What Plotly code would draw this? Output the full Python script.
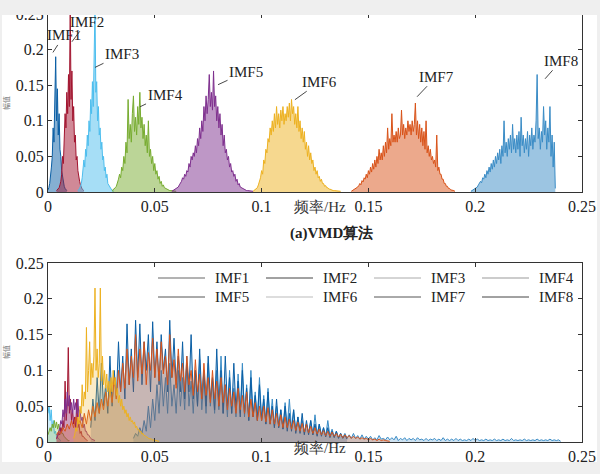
import numpy as np
import plotly.graph_objects as go

# ---------------- data ----------------
names = ["IMF1", "IMF2", "IMF3", "IMF4", "IMF5", "IMF6", "IMF7", "IMF8"]
colors = ["#0b5fa5", "#a2142f", "#4dbeee", "#77ac30", "#7e2f8e", "#edb120", "#d95319", "#3a8cc6"]
legend_greys = ["#666666", "#444444", "#aaaaaa", "#999999", "#555555", "#bbbbbb", "#555555", "#444444"]
x_ticks = [0, 0.05, 0.1, 0.15, 0.2, 0.25]
x_ticktext = ["0", "0.05", "0.1", "0.15", "0.2", "0.25"]
y_ticks = [0, 0.05, 0.1, 0.15, 0.2, 0.25]
y_ticktext = ["0", "0.05", "0.1", "0.15", "0.2", "0.25"]

# (a) VMD spectra: start frequency, bin step, amplitudes
vmd_start = [0.0, 0.004, 0.014, 0.030, 0.058, 0.096, 0.142, 0.198]
vmd_step = [0.0004, 0.0004, 0.0004, 0.0005, 0.0005, 0.0005, 0.0005, 0.0005]
vmd_imf1 = [0.003, 0.006, 0.012, 0.02, 0.035, 0.05, 0.09, 0.07, 0.135, 0.19, 0.1, 0.145,
            0.08, 0.11, 0.06, 0.05, 0.03, 0.02, 0.012, 0.008, 0.005, 0.003, 0.002]
vmd_imf2 = [0.002, 0.003, 0.004, 0.006, 0.01, 0.015, 0.025, 0.05, 0.04, 0.08, 0.11, 0.09,
            0.14, 0.11, 0.165, 0.12, 0.26, 0.13, 0.17, 0.1, 0.12, 0.07, 0.08, 0.045, 0.05,
            0.03, 0.02, 0.015, 0.01, 0.006, 0.004, 0.003, 0.002]
vmd_imf3 = [0.002, 0.003, 0.005, 0.008, 0.012, 0.02, 0.03, 0.045, 0.035, 0.06, 0.05, 0.08,
            0.065, 0.1, 0.085, 0.13, 0.11, 0.155, 0.12, 0.17, 0.26, 0.14, 0.155, 0.1, 0.12,
            0.08, 0.09, 0.06, 0.07, 0.045, 0.05, 0.03, 0.035, 0.02, 0.025, 0.012, 0.01,
            0.006, 0.004, 0.003, 0.002, 0.002, 0.001]
vmd_imf4 = [0.002, 0.003, 0.004, 0.006, 0.008, 0.012, 0.018, 0.025, 0.02, 0.035, 0.03, 0.05,
            0.04, 0.07, 0.055, 0.13, 0.075, 0.095, 0.07, 0.11, 0.135, 0.085, 0.105, 0.08,
            0.12, 0.095, 0.14, 0.09, 0.105, 0.075, 0.095, 0.065, 0.08, 0.055, 0.1, 0.05,
            0.06, 0.04, 0.05, 0.03, 0.04, 0.025, 0.03, 0.018, 0.022, 0.012, 0.015, 0.008,
            0.01, 0.006, 0.005, 0.004, 0.003, 0.003, 0.002, 0.002, 0.002, 0.001, 0.001,
            0.001, 0.001]
vmd_imf5 = [0.001, 0.002, 0.002, 0.003, 0.004, 0.005, 0.007, 0.01, 0.012, 0.015, 0.02, 0.018,
            0.025, 0.022, 0.03, 0.028, 0.04, 0.035, 0.05, 0.045, 0.055, 0.05, 0.065, 0.055,
            0.075, 0.065, 0.09, 0.075, 0.1, 0.085, 0.12, 0.1, 0.135, 0.11, 0.13, 0.165,
            0.12, 0.14, 0.115, 0.17, 0.12, 0.135, 0.1, 0.12, 0.09, 0.11, 0.08, 0.095, 0.065,
            0.08, 0.055, 0.06, 0.045, 0.05, 0.035, 0.04, 0.028, 0.03, 0.022, 0.025, 0.015,
            0.018, 0.01, 0.012, 0.007, 0.006, 0.005, 0.004, 0.003, 0.003, 0.002, 0.002,
            0.002, 0.001, 0.001, 0.001, 0.001]
vmd_imf6 = [0.001, 0.002, 0.003, 0.004, 0.006, 0.01, 0.015, 0.02, 0.03, 0.025, 0.045, 0.04,
            0.06, 0.055, 0.075, 0.07, 0.09, 0.08, 0.1, 0.085, 0.11, 0.09, 0.12, 0.095, 0.11,
            0.09, 0.115, 0.1, 0.12, 0.095, 0.11, 0.1, 0.12, 0.105, 0.125, 0.1, 0.13, 0.11,
            0.12, 0.095, 0.11, 0.09, 0.12, 0.085, 0.1, 0.075, 0.09, 0.07, 0.085, 0.06, 0.07,
            0.05, 0.065, 0.045, 0.055, 0.04, 0.045, 0.03, 0.035, 0.025, 0.03, 0.02, 0.022,
            0.015, 0.018, 0.012, 0.012, 0.008, 0.009, 0.006, 0.006, 0.004, 0.004, 0.003,
            0.003, 0.002, 0.002, 0.002, 0.001, 0.001, 0.001, 0.001, 0.001]
vmd_imf7 = [0.001, 0.002, 0.002, 0.003, 0.004, 0.005, 0.007, 0.009, 0.012, 0.01, 0.016, 0.014,
            0.02, 0.018, 0.025, 0.02, 0.03, 0.025, 0.035, 0.028, 0.04, 0.032, 0.045, 0.035,
            0.05, 0.04, 0.06, 0.045, 0.055, 0.045, 0.065, 0.05,
            0.07, 0.055, 0.09, 0.06, 0.075, 0.065, 0.11, 0.07, 0.08, 0.07, 0.085, 0.07,
            0.09, 0.075, 0.08, 0.115, 0.08, 0.095, 0.075, 0.09, 0.08, 0.1, 0.085, 0.095,
            0.08, 0.1, 0.085, 0.095, 0.125, 0.08, 0.1, 0.075, 0.095, 0.07, 0.09, 0.065,
            0.085, 0.06, 0.1, 0.055, 0.065, 0.05, 0.06, 0.045, 0.05, 0.04, 0.045, 0.035,
            0.08, 0.03, 0.035, 0.025, 0.025, 0.018, 0.018, 0.012, 0.012, 0.008, 0.008,
            0.005, 0.005, 0.003, 0.003, 0.002, 0.002, 0.001]
vmd_imf8 = [0.001, 0.002, 0.002, 0.003, 0.004, 0.005, 0.007, 0.01, 0.012, 0.015, 0.013, 0.02,
            0.018, 0.025, 0.02, 0.03, 0.025, 0.035, 0.028, 0.04, 0.032, 0.045, 0.035, 0.05,
            0.04, 0.055, 0.045, 0.06, 0.04, 0.065, 0.05, 0.1, 0.055, 0.07, 0.05, 0.075,
            0.06, 0.08, 0.055, 0.095, 0.06, 0.075, 0.055, 0.08, 0.06, 0.085, 0.05, 0.105,
            0.065, 0.08, 0.055, 0.075, 0.06, 0.085, 0.05, 0.08, 0.065, 0.09, 0.06, 0.08,
            0.07, 0.1, 0.165, 0.075, 0.09, 0.06, 0.085, 0.07, 0.12, 0.08, 0.1, 0.06, 0.09,
            0.07, 0.12, 0.05, 0.08, 0.035, 0.07, 0.005]
vmd_vals = [vmd_imf1, vmd_imf2, vmd_imf3, vmd_imf4, vmd_imf5, vmd_imf6, vmd_imf7, vmd_imf8]

# (b) spectra
b_start = [0.020, 0.004, 0.0, 0.0, 0.004, 0.012, 0.004, 0.040]
b_step = [0.001, 0.0005, 0.0005, 0.0005, 0.0005, 0.0005, 0.001, 0.001]
b_imf1 = [0.02, 0.06, 0.03, 0.09, 0.04, 0.11, 0.05, 0.08, 0.04, 0.12, 0.05, 0.1, 0.06, 0.14,
          0.07, 0.12, 0.06, 0.165, 0.08, 0.13, 0.07, 0.17, 0.09, 0.165, 0.08, 0.14, 0.1,
          0.15, 0.07, 0.168, 0.09, 0.14, 0.08, 0.15, 0.1, 0.13, 0.07, 0.17, 0.09, 0.145,
          0.08, 0.12, 0.07, 0.14, 0.06, 0.11, 0.07, 0.15, 0.06, 0.1, 0.05, 0.13, 0.06, 0.1,
          0.05, 0.12, 0.06, 0.09, 0.045, 0.13, 0.05, 0.1, 0.04, 0.12, 0.05, 0.09, 0.04,
          0.11, 0.045, 0.085, 0.035, 0.1, 0.04, 0.075, 0.03, 0.09, 0.035, 0.065, 0.03,
          0.08, 0.03, 0.06, 0.025, 0.07, 0.025, 0.05, 0.02, 0.06, 0.02, 0.045, 0.018,
          0.05, 0.015, 0.04, 0.015, 0.045, 0.012, 0.035, 0.012, 0.04, 0.01, 0.03, 0.01,
          0.03, 0.01, 0.025, 0.008, 0.025, 0.008, 0.02, 0.007, 0.02, 0.006, 0.015, 0.006,
          0.015, 0.005, 0.012, 0.005, 0.01, 0.004]
b_imf2 = [0.004, 0.008, 0.012, 0.01, 0.02, 0.015, 0.03, 0.02, 0.085, 0.03, 0.05, 0.132,
          0.04, 0.06, 0.03, 0.045, 0.025, 0.035, 0.02, 0.06, 0.02, 0.025, 0.012, 0.015,
          0.008, 0.008, 0.005, 0.004, 0.003, 0.002]
b_imf3 = [0.04, 0.05, 0.03, 0.045, 0.02, 0.03, 0.012, 0.015, 0.008, 0.006, 0.004, 0.003, 0.002]
b_imf4 = [0.01, 0.015, 0.02, 0.015, 0.025, 0.02, 0.03, 0.02, 0.028, 0.018, 0.025, 0.015,
          0.02, 0.012, 0.012, 0.008, 0.006, 0.004, 0.003, 0.002, 0.002]
b_imf5 = [0.005, 0.01, 0.015, 0.02, 0.03, 0.025, 0.045, 0.035, 0.06, 0.04, 0.07, 0.05,
          0.065, 0.045, 0.055, 0.04, 0.06, 0.045, 0.055, 0.04, 0.06, 0.035, 0.045, 0.03,
          0.035, 0.02, 0.025, 0.015, 0.015, 0.01, 0.01, 0.006, 0.005, 0.004, 0.003, 0.002,
          0.002]
b_imf6 = [0.005, 0.01, 0.02, 0.015, 0.035, 0.025, 0.05, 0.04, 0.08, 0.05, 0.07, 0.06, 0.16,
          0.07, 0.1, 0.14, 0.08, 0.11, 0.09, 0.12, 0.215, 0.1, 0.13, 0.09, 0.11, 0.215,
          0.085, 0.12, 0.08, 0.1, 0.075, 0.095, 0.07, 0.085, 0.065, 0.09, 0.07, 0.1, 0.08,
          0.09, 0.065, 0.075, 0.055, 0.065, 0.05, 0.06, 0.045, 0.05, 0.04, 0.045, 0.035,
          0.04, 0.03, 0.035, 0.028, 0.03, 0.025, 0.028, 0.02, 0.022, 0.017, 0.018, 0.014,
          0.015, 0.011, 0.012, 0.009, 0.009, 0.007, 0.007, 0.005, 0.005, 0.004, 0.004,
          0.003, 0.003, 0.002, 0.002, 0.002, 0.001, 0.001]
b_imf7 = [0.01, 0.015, 0.012, 0.02, 0.015, 0.025, 0.018, 0.03, 0.02, 0.035, 0.025, 0.03,
          0.02, 0.04, 0.025, 0.045, 0.03, 0.05, 0.035, 0.055, 0.04, 0.06, 0.045, 0.07,
          0.05, 0.075, 0.055, 0.09, 0.06, 0.1, 0.07, 0.11, 0.075, 0.13, 0.08, 0.12, 0.09,
          0.15, 0.085, 0.13, 0.095, 0.14, 0.08, 0.125, 0.1, 0.145, 0.09, 0.13, 0.085, 0.14,
          0.095, 0.12, 0.08, 0.15, 0.09, 0.115, 0.075, 0.13, 0.085, 0.11, 0.07, 0.12, 0.08,
          0.1, 0.065, 0.115, 0.07, 0.095, 0.06, 0.11, 0.065, 0.09, 0.055, 0.1, 0.06, 0.085,
          0.05, 0.09, 0.055, 0.08, 0.045, 0.075, 0.05, 0.07, 0.04, 0.075, 0.045, 0.065,
          0.04, 0.07, 0.035, 0.06, 0.035, 0.055, 0.03, 0.05, 0.03, 0.05, 0.028, 0.048,
          0.025, 0.045, 0.025, 0.04, 0.022, 0.038, 0.02, 0.035, 0.02, 0.032, 0.018, 0.03,
          0.016, 0.028, 0.015, 0.026, 0.014, 0.025, 0.013, 0.022, 0.012, 0.02, 0.011, 0.018,
          0.01, 0.016, 0.009, 0.015, 0.008, 0.014, 0.008, 0.012, 0.007, 0.011, 0.006, 0.01,
          0.006, 0.009, 0.005, 0.008, 0.005, 0.007, 0.004, 0.006, 0.004, 0.005, 0.003,
          0.005, 0.003, 0.004, 0.002, 0.004, 0.002, 0.003, 0.002, 0.002, 0.001]
b_imf8 = [0.005, 0.012, 0.008, 0.02, 0.012, 0.03, 0.015, 0.05, 0.02, 0.06,
          0.03, 0.08, 0.04, 0.1, 0.05, 0.09, 0.04, 0.11, 0.05, 0.08, 0.04, 0.1, 0.05, 0.09,
          0.045, 0.12, 0.05, 0.085, 0.04, 0.1, 0.05, 0.115, 0.045, 0.09, 0.04, 0.11, 0.05,
          0.085, 0.04, 0.1, 0.045, 0.12, 0.04, 0.08, 0.035, 0.1, 0.04, 0.075, 0.035, 0.095,
          0.04, 0.11, 0.035, 0.08, 0.03, 0.1, 0.035, 0.07, 0.03, 0.09, 0.03, 0.065, 0.025,
          0.075, 0.025, 0.06, 0.02, 0.05, 0.02, 0.045, 0.018, 0.055, 0.02, 0.06, 0.018,
          0.045, 0.015, 0.035, 0.015, 0.03, 0.012, 0.025, 0.012, 0.03, 0.01, 0.038, 0.01,
          0.025, 0.01, 0.02, 0.008, 0.03, 0.008, 0.018, 0.007, 0.015, 0.006, 0.012, 0.006,
          0.012, 0.005, 0.01, 0.005, 0.012, 0.005, 0.009, 0.004, 0.01, 0.004, 0.008, 0.004,
          0.008, 0.003, 0.006, 0.003, 0.009, 0.004, 0.005, 0.003, 0.007, 0.003,
          0.006, 0.003, 0.008, 0.002, 0.005, 0.003, 0.006, 0.002, 0.005, 0.003,
          0.005, 0.002, 0.006, 0.003, 0.004, 0.002, 0.005, 0.002, 0.004, 0.003,
          0.005, 0.002, 0.004, 0.002, 0.006, 0.002, 0.004, 0.002, 0.004, 0.002,
          0.005, 0.002, 0.004, 0.002, 0.003, 0.002, 0.004, 0.002, 0.005, 0.002,
          0.004, 0.002, 0.003, 0.002, 0.004, 0.002, 0.003, 0.002, 0.004, 0.002,
          0.003, 0.002, 0.004, 0.002, 0.003, 0.002, 0.005, 0.002, 0.003, 0.002,
          0.003, 0.002, 0.004, 0.002, 0.003, 0.002, 0.003, 0.002, 0.004, 0.002,
          0.003, 0.002, 0.003, 0.002, 0.004, 0.002, 0.003, 0.002, 0.003, 0.001]
b_vals = [b_imf1, b_imf2, b_imf3, b_imf4, b_imf5, b_imf6, b_imf7, b_imf8]
b_draw_order = [7, 0, 2, 3, 1, 4, 6, 5]

# label anchor points (frequency, amplitude) in panel (a) and text offsets
label_x = [0.0023, 0.0112, 0.0220, 0.0431, 0.0796, 0.1156, 0.1728, 0.2327]
label_y = [0.196, 0.211, 0.175, 0.1197, 0.1507, 0.1296, 0.1338, 0.159]
label_ax = [11, 15, 27, 25, 28, 25, 19, 16]
label_ay = [-17, -20, -13, -12, -13, -18, -20, -18]

# ---------------- figure ----------------
W, H = 600, 474
SERIF = "Liberation Serif"
fig = go.Figure()


def freqs(start, step, vals):
    return start + step * np.arange(len(vals))


def rgba(hex_color, a):
    h = hex_color.lstrip("#")
    return "rgba(%d,%d,%d,%.2f)" % (int(h[0:2], 16), int(h[2:4], 16), int(h[4:6], 16), a)


for i in range(8):
    fig.add_trace(go.Scatter(x=freqs(vmd_start[i], vmd_step[i], vmd_vals[i]), y=vmd_vals[i],
                             mode="lines", line=dict(color=colors[i], width=1),
                             fill="tozeroy", fillcolor=rgba(colors[i], 0.5),
                             name=names[i], showlegend=False, xaxis="x", yaxis="y"))
for i in b_draw_order:
    fig.add_trace(go.Scatter(x=freqs(b_start[i], b_step[i], b_vals[i]), y=b_vals[i],
                             mode="lines", line=dict(color=colors[i], width=1),
                             fill="tozeroy", fillcolor=rgba(colors[i], 0.25),
                             name=names[i], showlegend=False, xaxis="x2", yaxis="y2"))


def px(xp):
    return xp / W


def py(yp):
    return 1 - yp / H


xdom = [px(48), px(582)]
axis_common = dict(showline=True, linecolor="#333", linewidth=1, mirror="ticks",
                   ticks="inside", ticklen=4, tickcolor="#333", showgrid=False,
                   zeroline=False, automargin=False,
                   tickfont=dict(family=SERIF, size=16, color="#222"))

fig.update_layout(
    width=W, height=H, margin=dict(l=0, r=0, t=0, b=0, pad=0, autoexpand=False),
    autosize=False, font=dict(family=SERIF),
    paper_bgcolor="white", plot_bgcolor="white",
    xaxis=dict(domain=xdom, range=[0, 0.25], tickvals=x_ticks, ticktext=x_ticktext,
               anchor="y", **axis_common),
    yaxis=dict(domain=[py(192), py(14)], range=[0, 0.25], tickvals=y_ticks,
               ticktext=y_ticktext, anchor="x", **axis_common),
    xaxis2=dict(domain=xdom, range=[0, 0.25], tickvals=x_ticks, ticktext=x_ticktext,
                anchor="y2", **axis_common),
    yaxis2=dict(domain=[py(442), py(263)], range=[0, 0.25], tickvals=y_ticks,
                ticktext=y_ticktext, anchor="x2", **axis_common),
)

annotations = []
for i in range(8):
    annotations.append(dict(x=label_x[i], y=label_y[i], xref="x", yref="y", text=names[i],
                            showarrow=True, arrowhead=0, arrowwidth=0.9, arrowcolor="#333",
                            ax=label_ax[i], ay=label_ay[i], standoff=0,
                            font=dict(family=SERIF, size=15, color="#222")))

# axis labels and caption
for ypix in (207, 448):
    annotations.append(dict(x=px(320), y=py(ypix), xref="paper", yref="paper",
                            xanchor="center", yanchor="middle",
                            text="频率/Hz", showarrow=False,
                            font=dict(family=SERIF, size=15, color="#333")))
for ypix in (103, 352):
    annotations.append(dict(x=px(6), y=py(ypix), xref="paper", yref="paper",
                            xanchor="center", yanchor="middle",
                            text="幅值", textangle=-90, showarrow=False,
                            font=dict(family="Noto Sans CJK SC", size=7, color="#777")))
annotations.append(dict(x=px(331), y=py(233), xref="paper", yref="paper",
                        xanchor="center", yanchor="middle",
                        text="<b>(a)VMD算法</b>", showarrow=False,
                        font=dict(family=SERIF, size=15, color="#222")))

# manual legend for the lower panel
shapes = []
col_x = [158, 266, 374, 482]
row_y = [278, 297]
for i in range(8):
    r, c = divmod(i, 4)
    x0 = col_x[c]
    shapes.append(dict(type="line", xref="paper", yref="paper",
                       x0=px(x0), x1=px(x0 + 47), y0=py(row_y[r]), y1=py(row_y[r]),
                       line=dict(color=legend_greys[i], width=1)))
    annotations.append(dict(x=px(x0 + 55), y=py(row_y[r]), xref="paper", yref="paper",
                            xanchor="left", yanchor="middle", text=names[i],
                            showarrow=False,
                            font=dict(family=SERIF, size=15, color="#222")))

# page frame (screenshot border)
frame = "#efefef"
shapes += [
    dict(type="rect", xref="paper", yref="paper", x0=0, x1=1, y0=py(15), y1=1,
         fillcolor=frame, line=dict(width=0), layer="above"),
    dict(type="rect", xref="paper", yref="paper", x0=0, x1=1, y0=0, y1=py(462),
         fillcolor=frame, line=dict(width=0), layer="above"),
    dict(type="rect", xref="paper", yref="paper", x0=px(597), x1=1, y0=0, y1=1,
         fillcolor=frame, line=dict(width=0), layer="above"),
    dict(type="rect", xref="paper", yref="paper", x0=0, x1=px(2), y0=0, y1=1,
         fillcolor=frame, line=dict(width=0), layer="above"),
]

fig.update_layout(annotations=annotations, shapes=shapes)
fig.write_html("out.html")
